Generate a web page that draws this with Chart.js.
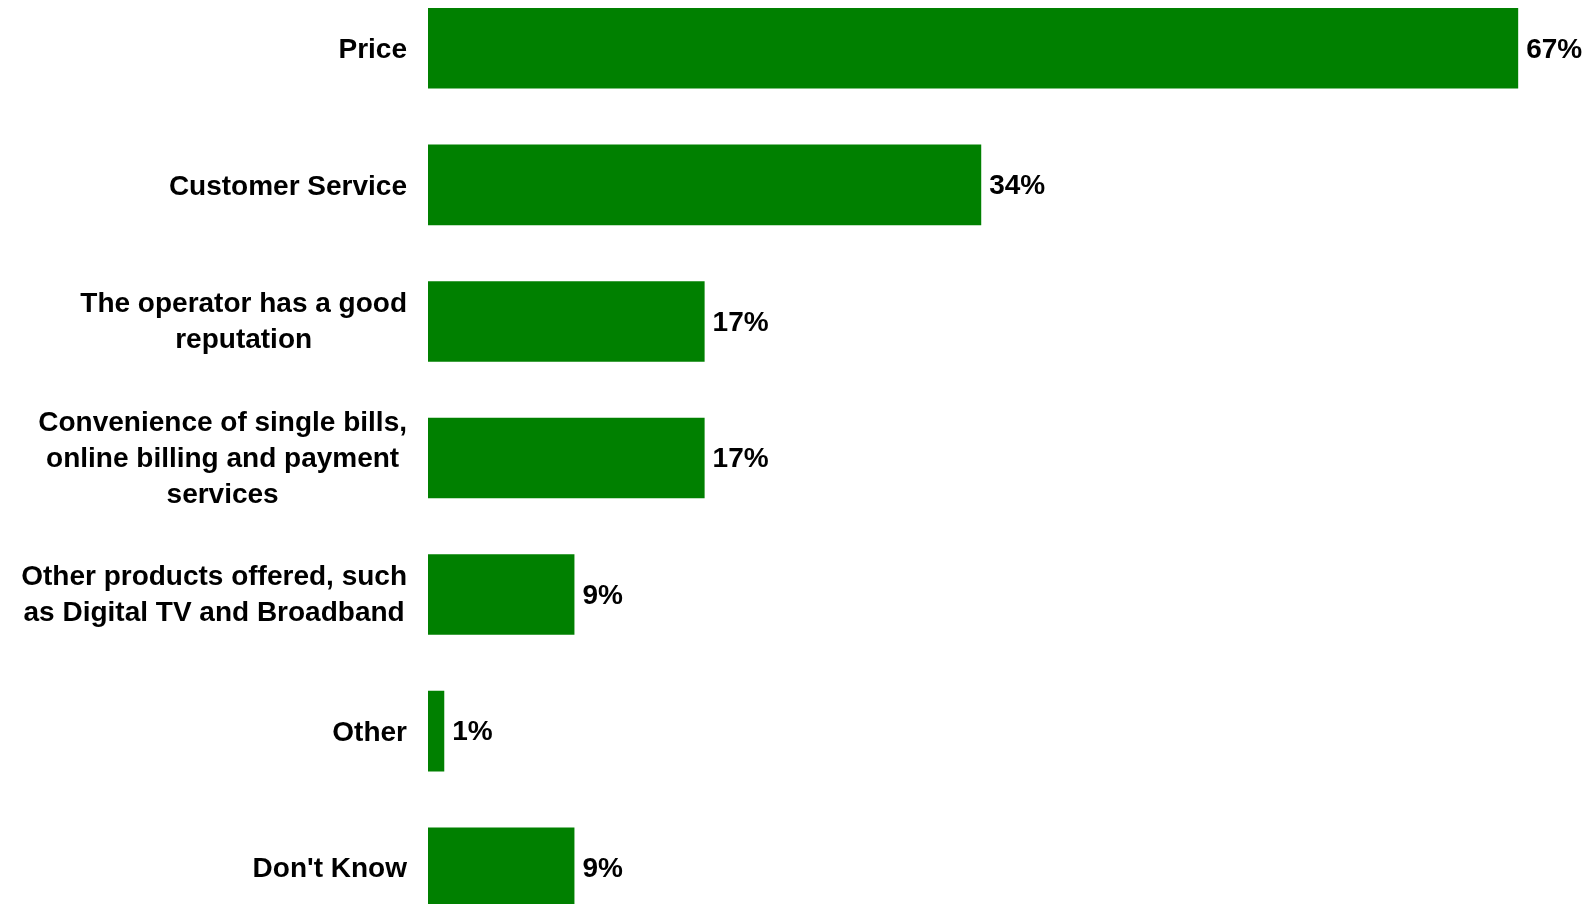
<!DOCTYPE html>
<html>
<head>
<meta charset="utf-8">
<script src="https://cdn.jsdelivr.net/npm/chart.js@4.4.1/dist/chart.umd.min.js"></script>
<style>
  html, body { margin: 0; padding: 0; background: #ffffff; overflow: hidden; }
  body { width: 1587px; height: 904px; position: relative; }
  #wrap { position: absolute; left: 0; top: -20px; width: 1587px; height: 956px; }
</style>
</head>
<body>
<div id="wrap"><canvas id="chart"></canvas></div>
<script>
// Reasons for choosing an operator (share of respondents, %)
const categories = [
  ["Price"],
  ["Customer Service"],
  ["The operator has a good", "reputation"],
  ["Convenience of single bills,", "online billing and payment", "services"],
  ["Other products offered, such", "as Digital TV and Broadband"],
  ["Other"],
  ["Don't Know"]
];
const shares = [67, 34, 17, 17, 9, 1, 9];
const valueLabels = ["67%", "34%", "17%", "17%", "9%", "1%", "9%"];

const FONT = 'bold 28px "Liberation Sans", Arial, sans-serif';
const GREEN = '#008000';

// Category names: each block right-aligned against the axis, lines centred within the block
const categoryLabels = {
  id: 'categoryLabels',
  afterDraw(chart) {
    const ctx = chart.ctx;
    const yScale = chart.scales.y;
    const right = 407;
    const lineH = 36;
    ctx.save();
    ctx.font = FONT;
    ctx.fillStyle = '#000000';
    ctx.textAlign = 'center';
    ctx.textBaseline = 'middle';
    categories.forEach((lines, i) => {
      const maxW = Math.max(...lines.map(l => ctx.measureText(l).width));
      const cx = right - maxW / 2;
      const cy = yScale.getPixelForValue(i) + (lines.length > 1 ? 1 : 2);
      const top = cy - (lines.length - 1) * lineH / 2;
      lines.forEach((l, k) => ctx.fillText(l, cx, top + k * lineH));
    });
    ctx.restore();
  }
};

// Value labels just past the end of each bar
const valueTags = {
  id: 'valueTags',
  afterDatasetsDraw(chart) {
    const ctx = chart.ctx;
    const meta = chart.getDatasetMeta(0);
    ctx.save();
    ctx.font = FONT;
    ctx.fillStyle = '#000000';
    ctx.textAlign = 'left';
    ctx.textBaseline = 'middle';
    meta.data.forEach((bar, i) => {
      ctx.fillText(valueLabels[i], bar.x + 8, bar.y + 1.5);
    });
    ctx.restore();
  }
};

new Chart(document.getElementById('chart'), {
  type: 'bar',
  data: {
    labels: categories,
    datasets: [{
      data: shares,
      backgroundColor: GREEN,
      borderWidth: 0,
      barPercentage: 0.59,
      categoryPercentage: 1.0
    }]
  },
  options: {
    indexAxis: 'y',
    responsive: true,
    maintainAspectRatio: false,
    animation: false,
    layout: { padding: { left: 428, right: 20, top: 0, bottom: 0 } },
    plugins: {
      legend: { display: false },
      tooltip: { enabled: false }
    },
    scales: {
      x: { display: false, min: 0, max: 70 },
      y: { display: false }
    }
  },
  plugins: [categoryLabels, valueTags]
});
</script>
</body>
</html>
